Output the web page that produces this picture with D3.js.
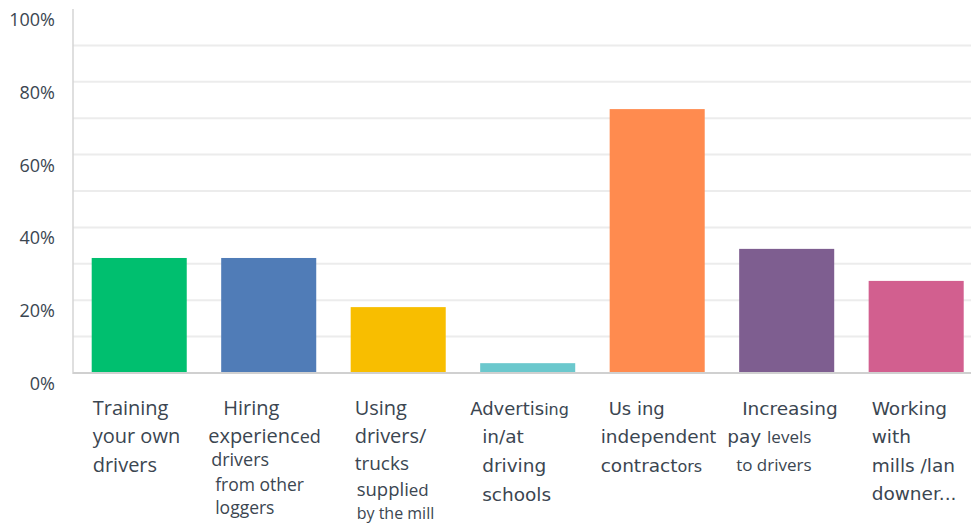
<!DOCTYPE html>
<html>
<head>
<meta charset="utf-8">
<script src="https://cdn.jsdelivr.net/npm/d3@7"></script>
<style>
  html, body { margin: 0; padding: 0; background: #fff; }
  svg { display: block; }
</style>
</head>
<body>
<svg id="chart" width="971" height="525"></svg>
<script>
// Survey responses: share of respondents using each recruiting strategy (%)
const categories = [
  "Training your own drivers",
  "Hiring experienced drivers from other loggers",
  "Using drivers/ trucks supplied by the mill",
  "Advertising in/at driving schools",
  "Using independent contractors",
  "Increasing pay levels to drivers",
  "Working with mills/landowners"
];
const values = [31.6, 31.6, 18.1, 2.7, 72.5, 34.1, 25.3];
const barColors = ["#00bf6f", "#507cb7", "#f8be00", "#6bc8cd", "#ff8b4f", "#7e5e90", "#d25f8f"];
const yTicks = [0, 20, 40, 60, 80, 100];
const gridTicks = [10, 20, 30, 40, 50, 60, 70, 80, 90];

// Wrapped category labels: each line is a list of [text, face, size] runs,
// with a horizontal nudge from the bar's left edge and a baseline.
const OS = "'Open Sans', sans-serif";
const DV = "'DejaVu Sans', sans-serif";
const labelLines = [
  [
    { dx: 1, y: 415, runs: [["Training", OS, 20]] },
    { dx: 1, y: 443, runs: [["your own", OS, 20]] },
    { dx: 1, y: 472, runs: [["drivers", OS, 20]] }
  ],
  [
    { dx: 2, y: 415, runs: [["Hiring", OS, 20]] },
    { dx: -13, y: 443, runs: [["experienc", OS, 20], ["ed", OS, 18]] },
    { dx: -10, y: 466, runs: [["drivers", OS, 18]] },
    { dx: -6, y: 491, runs: [["from other", OS, 17.5]] },
    { dx: -6, y: 514, runs: [["loggers", OS, 17.5]] }
  ],
  [
    { dx: 4, y: 415, runs: [["Using", OS, 20]] },
    { dx: 4, y: 443, runs: [["drivers/", OS, 20]] },
    { dx: 4, y: 470, runs: [["trucks", OS, 19]] },
    { dx: 6, y: 496, runs: [["suppli", OS, 18.5], ["ed", OS, 17]] },
    { dx: 6, y: 519, runs: [["by the mill", OS, 16]] }
  ],
  [
    { dx: -10, y: 415, runs: [["Advertis", DV, 18], ["ing", DV, 16]] },
    { dx: 2, y: 443, runs: [["in/at", DV, 18.5]] },
    { dx: 2, y: 472, runs: [["driving", DV, 18.5]] },
    { dx: 2, y: 501, runs: [["schools", DV, 18.5]] }
  ],
  [
    { dx: -1, y: 415, runs: [["Us ing", DV, 18]] },
    { dx: -9, y: 443, runs: [["independe", DV, 18.5], ["nt", DV, 17]] },
    { dx: -9, y: 472, runs: [["contract", DV, 18.5], ["ors", DV, 16]] }
  ],
  [
    { dx: 3, y: 415, runs: [["Increasing", DV, 18.5]] },
    { dx: -12, y: 443, runs: [["pay ", DV, 18.5], ["levels", OS, 17]] },
    { dx: -3, y: 471, runs: [["to drivers", OS, 17]] }
  ],
  [
    { dx: 3, y: 415, runs: [["Working", DV, 18.5]] },
    { dx: 3, y: 443, runs: [["with", DV, 18.5]] },
    { dx: 3, y: 472, runs: [["mills /lan", DV, 18.5]] },
    { dx: 3, y: 500, runs: [["downer...", DV, 18.5]] }
  ]
];

const svg = d3.select("#chart");
const W = 971;
const plotLeft = 73, plotTop = 9, plotBottom = 373;

const x = d3.scaleBand()
  .domain(categories)
  .range([plotLeft, 982.4])
  .paddingInner(0.266)
  .paddingOuter(0.1444);

const y = d3.scaleLinear()
  .domain([0, 100])
  .range([plotBottom, plotTop]);

const textColor = "#3b4651";

// Horizontal gridlines
svg.append("g")
  .selectAll("line")
  .data(gridTicks)
  .join("line")
  .attr("x1", plotLeft)
  .attr("x2", W)
  .attr("y1", d => y(d))
  .attr("y2", d => y(d))
  .attr("stroke", "#ececec")
  .attr("stroke-width", 2);

// Y axis tick labels (sit a little below their value)
svg.append("g")
  .selectAll("text")
  .data(yTicks)
  .join("text")
  .attr("x", 55)
  .attr("y", d => y(d) + 17)
  .attr("text-anchor", "end")
  .attr("font-family", OS)
  .attr("font-size", 18)
  .attr("fill", textColor)
  .text(d => d + "%");

// Bars
svg.append("g")
  .selectAll("rect")
  .data(values)
  .join("rect")
  .attr("x", (d, i) => x(categories[i]))
  .attr("width", x.bandwidth())
  .attr("y", d => y(d))
  .attr("height", d => y(0) - y(d))
  .attr("fill", (d, i) => barColors[i]);

// Axis lines
svg.append("line")
  .attr("x1", plotLeft).attr("x2", plotLeft)
  .attr("y1", plotTop).attr("y2", plotBottom + 1)
  .attr("stroke", "#d4d4d4").attr("stroke-width", 1.5);
svg.append("line")
  .attr("x1", plotLeft).attr("x2", W)
  .attr("y1", plotBottom).attr("y2", plotBottom)
  .attr("stroke", "#d0d0d0").attr("stroke-width", 2);

// Category labels
const labels = svg.append("g");
categories.forEach((c, i) => {
  labelLines[i].forEach(line => {
    const t = labels.append("text")
      .attr("x", x(c) + line.dx)
      .attr("y", line.y)
      .attr("fill", textColor);
    line.runs.forEach(r => {
      t.append("tspan")
        .attr("font-family", r[1])
        .attr("font-size", r[2])
        .text(r[0]);
    });
  });
});
</script>
</body>
</html>
